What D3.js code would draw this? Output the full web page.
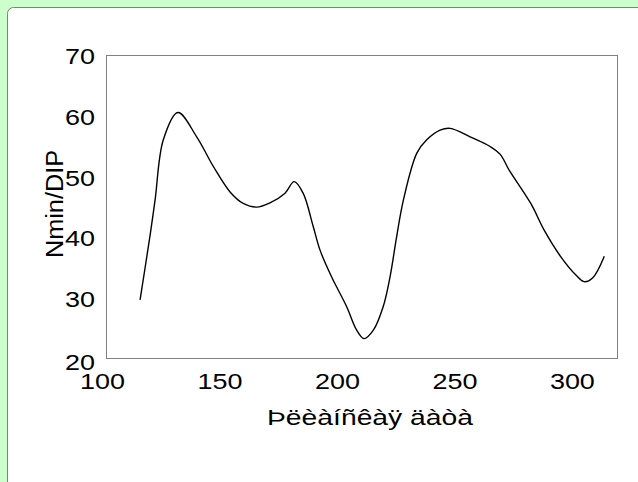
<!DOCTYPE html>
<html>
<head>
<meta charset="utf-8">
<script src="https://cdn.jsdelivr.net/npm/d3@7"></script>
<style>
  html, body { margin: 0; padding: 0; background: #ccffcc; overflow: hidden; }
  svg { display: block; }
</style>
</head>
<body>
<svg width="638" height="482"></svg>
<script>
// values
const days = [114.5, 118.9, 120.9, 124.4, 130.6, 138.6, 145.7, 152.8, 158.4, 164.1, 169.8,
  176.2, 180.1, 183.9, 188.2, 191.1, 196.0, 202.4, 206.7, 209.8, 213.8, 218.0, 220.9,
  223.7, 226.6, 232.3, 236.5, 242.2, 246.5, 255.0, 263.5, 267.8, 271.6, 280.8,
  286.5, 293.6, 300.0, 303.5, 307.1, 312.1];
const nmin = [29.6, 40.6, 46.1, 56.0, 60.5, 56.5, 51.6, 47.4, 45.5, 44.9, 45.6,
  47.2, 49.1, 47.2, 41.7, 37.8, 33.4, 28.5, 24.6, 23.2, 24.6, 28.5, 33.4,
  40.0, 46.1, 53.8, 56.0, 57.6, 57.9, 56.5, 54.9, 53.6, 51.0, 45.5,
  41.1, 36.7, 33.7, 32.6, 33.2, 36.8];
const xTicks = [100, 150, 200, 250, 300];
const yTicks = [20, 30, 40, 50, 60, 70];
const xTitle = 'Þëèàíñêàÿ äàòà';
const yTitle = 'Nmin/DIP';

const svg = d3.select('svg');

// white panel with rounded corner
svg.append('rect')
  .attr('x', 7.5).attr('y', 7.5)
  .attr('width', 700).attr('height', 600)
  .attr('rx', 6)
  .attr('fill', '#fff')
  .attr('stroke', '#808080');

const box = { left: 106, top: 55, right: 617, bottom: 358 };

const x = d3.scaleLinear().domain([100, 317.5]).range([box.left, box.right]);
const y = d3.scaleLinear().domain([20, 70]).range([box.bottom, box.top]);

svg.append('rect')
  .attr('x', box.left + 0.5).attr('y', box.top + 0.5)
  .attr('width', box.right - box.left).attr('height', box.bottom - box.top)
  .attr('fill', '#fff')
  .attr('stroke', '#808080');

const font = '"Liberation Sans", Arial, sans-serif';

const yAxis = svg.append('g')
  .attr('transform', `translate(${box.left},0)`)
  .call(d3.axisLeft(y).tickValues(yTicks).tickSize(0).tickPadding(11));
yAxis.select('.domain').remove();
yAxis.selectAll('text')
  .attr('font-family', font).attr('font-size', 22).attr('fill', '#000')
  .attr('textLength', d => String(d).length * 15)
  .attr('lengthAdjust', 'spacingAndGlyphs')
  .attr('dy', d => d === 20 ? '0.5em' : '0.4em');

const xAxis = svg.append('g')
  .attr('transform', `translate(0,${box.bottom})`)
  .call(d3.axisBottom(x).tickValues(xTicks).tickSize(0).tickPadding(15));
xAxis.select('.domain').remove();
xAxis.selectAll('text')
  .attr('font-family', font).attr('font-size', 22).attr('fill', '#000')
  .attr('textLength', d => String(d).length * 15)
  .attr('lengthAdjust', 'spacingAndGlyphs')
  .attr('dx', -4);

svg.append('text')
  .attr('x', 370).attr('y', 425)
  .attr('text-anchor', 'middle')
  .attr('font-family', font).attr('font-size', 22)
  .attr('textLength', 206).attr('lengthAdjust', 'spacingAndGlyphs')
  .text(xTitle);

svg.append('text')
  .attr('transform', 'translate(63,204) rotate(-90)')
  .attr('text-anchor', 'middle')
  .attr('font-family', font).attr('font-size', 23)
  .attr('textLength', 108).attr('lengthAdjust', 'spacingAndGlyphs')
  .text(yTitle);

const line = d3.line()
  .x((d, i) => x(days[i]))
  .y(d => y(d))
  .curve(d3.curveCatmullRom);

svg.append('path')
  .attr('d', line(nmin))
  .attr('fill', 'none')
  .attr('stroke', '#000')
  .attr('stroke-width', 1.4);
</script>
</body>
</html>
